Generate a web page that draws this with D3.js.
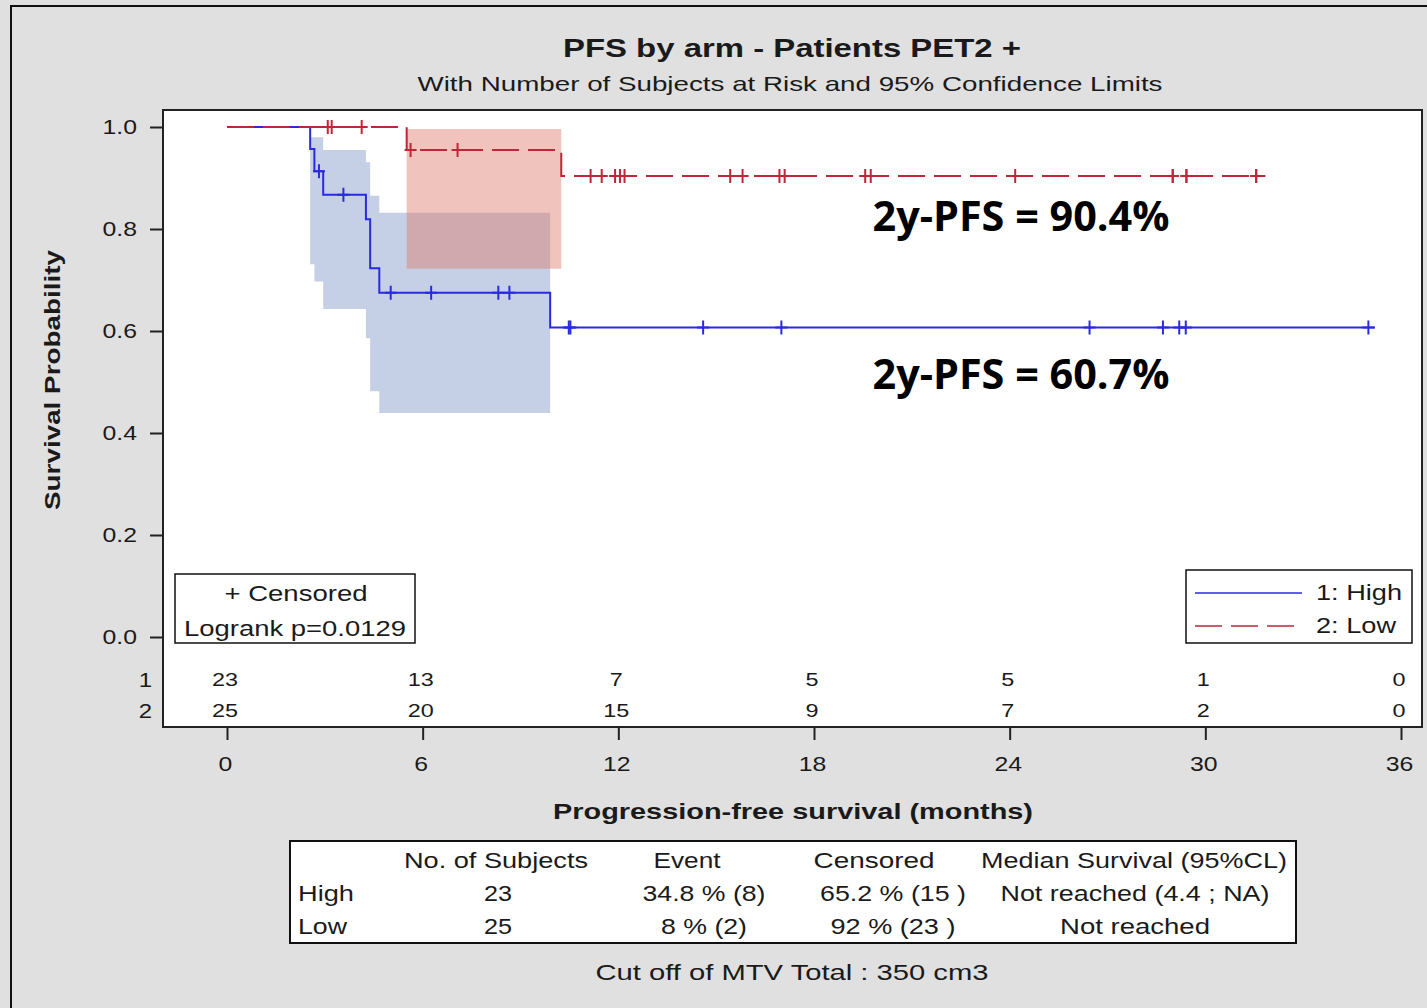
<!DOCTYPE html>
<html>
<head>
<meta charset="utf-8">
<script src="https://cdn.jsdelivr.net/npm/d3@7/dist/d3.min.js"></script>
<style>
    html, body { margin: 0; padding: 0; background: #e0e0e0; }
    svg { display: block; }
    text { font-family: "Liberation Sans", Arial, sans-serif; fill: #1a1a1a; }
</style>
</head>
<body>
<div id="chart"></div>
<script>
'use strict';

// Kaplan-Meier steps
var highTimes = [0, 2.55, 2.68, 2.95, 4.26, 4.39, 4.67, 9.91],
    highSurv = [1, 0.957, 0.913, 0.867, 0.819, 0.723, 0.675, 0.607],
    highLast = 35.2,
    highCensored = [2.82, 3.57, 5.02, 6.26, 8.32, 8.66, 10.48, 10.53, 14.6, 17.0, 26.45, 28.7, 29.2, 29.4, 35.0];

var lowTimes = [0, 5.51, 10.25],
    lowSurv = [1, 0.955, 0.904],
    lowLast = 31.84,
    lowCensored = [3.09, 3.21, 4.13, 5.63, 7.07, 11.15, 11.49, 11.9, 12.05, 12.19, 15.43, 15.81, 16.94, 17.1,
        19.57, 19.74, 24.17, 29.0, 29.0, 29.42, 29.42, 31.56, 31.56];

// 95% confidence bands (start times, upper, lower) and end of band
var highBandTimes = [2.55, 2.68, 2.95, 4.26, 4.39, 4.67],
    highUpper = [0.98, 0.98, 0.955, 0.931, 0.865, 0.832],
    highLower = [0.731, 0.697, 0.643, 0.586, 0.482, 0.439],
    highBandEnd = 9.91;

var lowBandTimes = [5.51],
    lowUpper = [0.996],
    lowLower = [0.722],
    lowBandEnd = 10.25;

// number at risk
var riskTimes = [0, 6, 12, 18, 24, 30, 36],
    riskHigh = [23, 13, 7, 5, 5, 1, 0],
    riskLow = [25, 20, 15, 9, 7, 2, 0];

var yTicks = [0, 0.2, 0.4, 0.6, 0.8, 1.0],
    xTicks = [0, 6, 12, 18, 24, 30, 36];

var tableHeader = ['No. of Subjects', 'Event', 'Censored', 'Median Survival (95%CL)'],
    tableRows = [
        ['High', '23', '34.8 % (8)', '65.2 % (15 )', 'Not reached (4.4 ; NA)'],
        ['Low', '25', '8 % (2)', '92 % (23 )', 'Not reached']
    ];

var width = 1427,
    height = 1008,
    blue = '#2a2adf',
    red = '#bf2638',
    frame = { left: 163, top: 110, right: 1422, bottom: 727 },
    svg = d3.select('#chart').append('svg').attr('width', width).attr('height', height),
    x = d3.scaleLinear().domain([0, 36]).range([227, 1401]),
    y = d3.scaleLinear().domain([0, 1]).range([637, 127]);

function label(px, py, str, size, opts) {
    opts = opts || {};
    var t = svg.append('text').attr('x', px).attr('y', py).attr('dy', '0.35em')
        .style('font-size', size + 'px')
        .style('font-weight', opts.weight || 'normal')
        .attr('text-anchor', opts.anchor || 'middle')
        .text(str);
    if (opts.font) t.style('font-family', opts.font);
    if (opts.len) t.attr('textLength', opts.len).attr('lengthAdjust', 'spacingAndGlyphs');
    return t;
}

// the source picture is a bit wider than tall, widen small texts the same way
function stretch(sel, k) {
    sel.each(function () {
        var w = this.getComputedTextLength();
        d3.select(this).attr('textLength', w * k).attr('lengthAdjust', 'spacingAndGlyphs');
    });
}

// outer border and plot area
svg.append('rect').attr('x', 11).attr('y', 6).attr('width', 1440).attr('height', 1020)
    .style('fill', '#e0e0e0').style('stroke', '#111').style('stroke-width', 2);
svg.append('rect').attr('x', frame.left).attr('y', frame.top)
    .attr('width', frame.right - frame.left).attr('height', frame.bottom - frame.top)
    .style('fill', '#fff');

label(792, 48, 'PFS by arm - Patients PET2 +', 26, { weight: 'bold', len: 458 });
label(790, 84, 'With Number of Subjects at Risk and 95% Confidence Limits', 21, { len: 745 });

// confidence bands
function bandData(times, upper, lower, end) {
    var pts = times.map(function (t, i) {
        return { t: t, hi: upper[i], lo: lower[i] };
    });
    pts.push({ t: end, hi: upper[upper.length - 1], lo: lower[lower.length - 1] });
    return pts;
}
var area = d3.area().curve(d3.curveStepAfter)
    .x(function (d) { return x(d.t); })
    .y0(function (d) { return y(d.lo); })
    .y1(function (d) { return y(d.hi); });

svg.append('path').datum(bandData(highBandTimes, highUpper, highLower, highBandEnd))
    .attr('d', area).style('fill', '#c5d0e6');
svg.append('path').datum(bandData(lowBandTimes, lowUpper, lowLower, lowBandEnd))
    .attr('d', area).style('fill', 'rgb(222,122,108)').style('fill-opacity', 0.45);

// survival steps
function stepData(times, surv, last) {
    var pts = times.map(function (t, i) { return [t, surv[i]]; });
    pts.push([last, surv[surv.length - 1]]);
    return pts;
}
function survAt(times, surv, t) {
    var s = surv[0];
    times.forEach(function (tt, i) { if (tt <= t) s = surv[i]; });
    return s;
}
var line = d3.line().curve(d3.curveStepAfter)
    .x(function (d) { return x(d[0]); })
    .y(function (d) { return y(d[1]); });

svg.append('path').datum(stepData(highTimes, highSurv, highLast)).attr('d', line)
    .style('fill', 'none').style('stroke', blue).style('stroke-width', 2);
svg.append('path').datum(stepData(lowTimes, lowSurv, lowLast)).attr('d', line)
    .style('fill', 'none').style('stroke', red).style('stroke-width', 2)
    .style('stroke-dasharray', '27,9');

function censorMarks(times, surv, cens, color) {
    var g = svg.append('g').style('stroke', color).style('stroke-width', 2);
    g.selectAll('path').data(cens).enter().append('path')
        .attr('d', function (t) {
            var cx = x(t), cy = y(survAt(times, surv, t));
            return 'M' + cx + ',' + (cy - 7) + 'V' + (cy + 7) + 'M' + (cx - 6) + ',' + cy + 'H' + (cx + 6);
        });
}
censorMarks(highTimes, highSurv, highCensored, blue);
censorMarks(lowTimes, lowSurv, lowCensored, red);

// annotations
label(1021, 217, '2y-PFS = 90.4%', 41, { weight: 'bold', font: '"Open Sans", "Noto Sans", sans-serif', len: 297 }).style('fill', '#000');
label(1021, 375, '2y-PFS = 60.7%', 41, { weight: 'bold', font: '"Open Sans", "Noto Sans", sans-serif', len: 297 }).style('fill', '#000');

// censored / logrank box
svg.append('rect').attr('x', 175).attr('y', 574).attr('width', 240).attr('height', 69)
    .style('fill', '#fff').style('stroke', '#111').style('stroke-width', 1.5);
label(296, 593, '+ Censored', 22, { len: 143 });
label(295, 628, 'Logrank p=0.0129', 22, { len: 222 });

// legend
svg.append('rect').attr('x', 1186).attr('y', 570).attr('width', 226).attr('height', 73)
    .style('fill', '#fff').style('stroke', '#111').style('stroke-width', 1.5);
svg.append('line').attr('x1', 1195).attr('x2', 1302).attr('y1', 593).attr('y2', 593)
    .style('stroke', blue).style('stroke-width', 1.5);
svg.append('line').attr('x1', 1195).attr('x2', 1296).attr('y1', 626).attr('y2', 626)
    .style('stroke', red).style('stroke-width', 1.5).style('stroke-dasharray', '27,9');
label(1316, 592, '1: High', 22, { anchor: 'start', len: 86 });
label(1316, 625, '2: Low', 22, { anchor: 'start', len: 80 });

// numbers at risk
stretch(label(152, 680, '1', 20, { anchor: 'end' }), 1.2);
stretch(label(152, 711, '2', 20, { anchor: 'end' }), 1.2);
var risk1 = svg.selectAll('.risk1').data(riskHigh).enter().append('text').attr('class', 'risk1')
    .attr('x', function (d, i) { return x(riskTimes[i]) - 2; }).attr('y', 680).attr('dy', '0.35em')
    .attr('text-anchor', 'middle').style('font-size', '18px').text(function (d) { return d; });
var risk2 = svg.selectAll('.risk2').data(riskLow).enter().append('text').attr('class', 'risk2')
    .attr('x', function (d, i) { return x(riskTimes[i]) - 2; }).attr('y', 711).attr('dy', '0.35em')
    .attr('text-anchor', 'middle').style('font-size', '18px').text(function (d) { return d; });
stretch(risk1, 1.3);
stretch(risk2, 1.3);

// frame
svg.append('rect').attr('x', frame.left).attr('y', frame.top)
    .attr('width', frame.right - frame.left).attr('height', frame.bottom - frame.top)
    .style('fill', 'none').style('stroke', '#222').style('stroke-width', 2);

// axes
var yAxis = svg.append('g').attr('transform', 'translate(' + frame.left + ',0)')
    .call(d3.axisLeft(y).tickValues(yTicks).tickFormat(d3.format('.1f')).tickSize(13).tickPadding(13));
var xAxis = svg.append('g').attr('transform', 'translate(0,' + frame.bottom + ')')
    .call(d3.axisBottom(x).tickValues(xTicks).tickSize(13).tickPadding(16));
[yAxis, xAxis].forEach(function (ax) {
    ax.select('.domain').remove();
    ax.selectAll('.tick line').style('stroke', '#222').style('stroke-width', 2);
    ax.selectAll('.tick text').style('font-size', '21px').style('font-family', '"Liberation Sans", Arial, sans-serif')
        .style('fill', '#1a1a1a');
    stretch(ax.selectAll('.tick text'), 1.18);
});
xAxis.selectAll('.tick text').attr('dx', '-2');

label(0, 0, 'Survival Probability', 22, { weight: 'bold', len: 260 })
    .attr('transform', 'translate(52,380) rotate(-90)');
label(793, 811, 'Progression-free survival (months)', 22, { weight: 'bold', len: 480 });

// summary table
svg.append('rect').attr('x', 290).attr('y', 841).attr('width', 1006).attr('height', 102)
    .style('fill', '#fff').style('stroke', '#111').style('stroke-width', 2);
var colX = [496, 687, 874, 1134],
    headLen = [184, 67, 121, 306];
tableHeader.forEach(function (h, i) {
    label(colX[i], 860, h, 22, { len: headLen[i] });
});
var cellX = [298, 498, 704, 893, 1135],
    rowY = [893, 926],
    cellLen = [[56, 28, 123, 146, 269], [49, 28, 86, 125, 150]];
tableRows.forEach(function (row, r) {
    row.forEach(function (c, i) {
        label(cellX[i], rowY[r], c, 22, { anchor: i === 0 ? 'start' : 'middle', len: cellLen[r][i] });
    });
});

label(792, 972, 'Cut off of MTV Total : 350 cm3', 22, { len: 393 });
</script>
</body>
</html>
